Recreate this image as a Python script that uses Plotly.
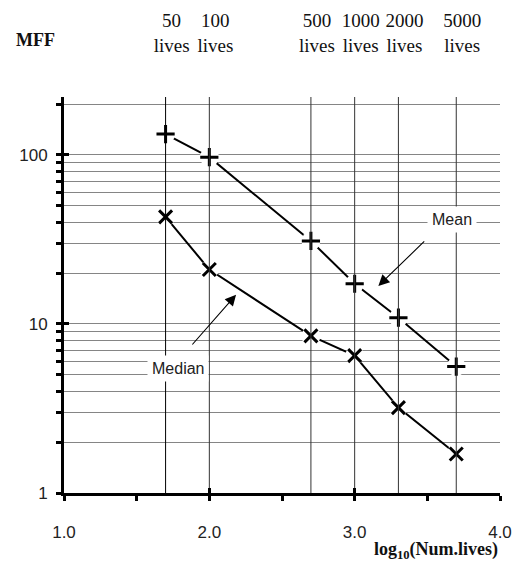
import numpy as np
import plotly.graph_objects as go

# Number of lives in each run and the resulting MFF statistics
lives = [50, 100, 500, 1000, 2000, 5000]
life_labels = ["50<br>lives", "100<br>lives", "500<br>lives",
               "1000<br>lives", "2000<br>lives", "5000<br>lives"]
mean_mff = [133, 97, 31, 17.3, 10.9, 5.6]
median_mff = [43, 21, 8.5, 6.5, 3.2, 1.7]

# Axis ticks
x_ticks = [1.0, 1.5, 2.0, 2.5, 3.0, 3.5, 4.0]
x_tick_text = ["1.0", "", "2.0", "", "3.0", "", "4.0"]
x_major = [1.0, 2.0, 3.0, 4.0]
y_grid = [1, 2, 3, 4, 5, 6, 7, 8, 9,
          10, 20, 30, 40, 50, 60, 70, 80, 90,
          100, 200]
y_major = [1, 10, 100]
y_tick_text = [str(v) if v in y_major else "" for v in y_grid]

X_RANGE = [1.0, 4.0]
Y_RANGE = [0.0, 2.343]          # log10 units
y_top = 10 ** Y_RANGE[1]

xlog = np.log10(lives)

SANS = "Liberation Sans, Arial, sans-serif"
SERIF = "Liberation Serif, Times New Roman, serif"

fig = go.Figure()

# connecting lines
for vals in (mean_mff, median_mff):
    fig.add_trace(go.Scatter(x=xlog, y=vals, mode="lines",
                             line=dict(color="black", width=2),
                             showlegend=False, hoverinfo="skip"))

# white halo that opens a gap round every marker
for vals in (mean_mff, median_mff):
    fig.add_trace(go.Scatter(x=xlog, y=vals, mode="markers",
                             marker=dict(symbol="circle", size=19, color="white",
                                         line=dict(width=0)),
                             showlegend=False, hoverinfo="skip"))

# markers
fig.add_trace(go.Scatter(x=xlog, y=mean_mff, mode="markers", name="Mean",
                         marker=dict(symbol="cross-thin", size=13,
                                     line=dict(color="black", width=3)),
                         showlegend=False))
fig.add_trace(go.Scatter(x=xlog, y=median_mff, mode="markers", name="Median",
                         marker=dict(symbol="x-thin", size=13,
                                     line=dict(color="black", width=3)),
                         showlegend=False))

# vertical reference lines at each number of lives (top overlay axis)
for i, xv in enumerate(xlog):
    fig.add_trace(go.Scatter(x=[xv, xv], y=[1, y_top], mode="lines",
                             line=dict(color="black" if i == 0 else "#333333", width=1),
                             xaxis="x2", showlegend=False, hoverinfo="skip"))

# empty trace holding the inner major tick axes
fig.add_trace(go.Scatter(x=[], y=[], xaxis="x3", yaxis="y2", showlegend=False))

fig.update_layout(
    width=514, height=563,
    margin=dict(l=64, r=14, t=97, b=70, autoexpand=False),
    paper_bgcolor="white", plot_bgcolor="white",
    xaxis=dict(range=X_RANGE, tickmode="array", tickvals=x_ticks, ticktext=x_tick_text,
               ticks="outside", ticklen=5, tickwidth=2.5, tickcolor="black",
               showline=True, linewidth=3, linecolor="black",
               showgrid=False, zeroline=False, automargin=False,
               tickfont=dict(family=SANS, size=17, color="#222"),
               ticklabelstandoff=17),
    xaxis2=dict(range=X_RANGE, overlaying="x", side="top", anchor="y",
                tickmode="array", tickvals=list(xlog), ticktext=life_labels,
                ticks="", showline=False, showgrid=False, zeroline=False,
                automargin=False,
                tickfont=dict(family=SERIF, size=19, color="#111"),
                ticklabelstandoff=40, ticklabelshift=6),
    xaxis3=dict(range=X_RANGE, overlaying="x", side="bottom", anchor="y2",
                tickmode="array", tickvals=x_major, ticks="inside", ticklen=5,
                tickwidth=2.5, tickcolor="black", showticklabels=False,
                showline=False, showgrid=False, zeroline=False, automargin=False),
    yaxis=dict(type="log", range=Y_RANGE, tickmode="array", tickvals=y_grid,
               ticktext=y_tick_text, ticks="outside", ticklen=5, tickwidth=2.5,
               tickcolor="black", showline=True, linewidth=3, linecolor="black",
               showgrid=True, gridcolor="#858585", gridwidth=1, zeroline=False,
               automargin=False,
               tickfont=dict(family=SANS, size=17, color="#222"),
               ticklabelstandoff=5),
    yaxis2=dict(type="log", range=Y_RANGE, overlaying="y", side="left", anchor="x3",
                tickmode="array", tickvals=y_major, ticks="inside", ticklen=5,
                tickwidth=2.5, tickcolor="black", showticklabels=False,
                showline=False, showgrid=False, zeroline=False, automargin=False),
)

# Labels and arrows (annotation y values are in log10 units on the log axis)
fig.add_annotation(x=3.670, y=np.log10(41.8), text="Mean", showarrow=False,
                   bgcolor="white", borderpad=4,
                   font=dict(family=SANS, size=16, color="#222"))
fig.add_annotation(x=3.163, y=np.log10(16.8), ax=3.489, ay=np.log10(31.4),
                   axref="x", ayref="y", text="", showarrow=True,
                   arrowhead=2, arrowsize=2, arrowwidth=1.1, arrowcolor="black",
                   standoff=0)
fig.add_annotation(x=1.785, y=np.log10(5.49), text="Median", showarrow=False,
                   bgcolor="white", borderpad=4,
                   font=dict(family=SANS, size=16, color="#222"))
fig.add_annotation(x=2.184, y=np.log10(14.9), ax=1.874, ay=np.log10(7.41),
                   axref="x", ayref="y", text="", showarrow=True,
                   arrowhead=2, arrowsize=2, arrowwidth=1.1, arrowcolor="black",
                   standoff=0)

# Axis captions
fig.add_annotation(xref="paper", yref="paper", x=-0.115, y=1.0, yshift=57,
                   xanchor="left", yanchor="middle", text="<b>MFF</b>",
                   showarrow=False, font=dict(family=SERIF, size=18, color="#111"))
fig.add_annotation(xref="paper", yref="paper", x=1.0, y=0, yshift=-57,
                   xanchor="right", yanchor="middle",
                   text="<b>log<sub>10</sub>(Num.lives)</b>",
                   showarrow=False, font=dict(family=SERIF, size=18, color="#111"))

fig.write_html("out.html")
